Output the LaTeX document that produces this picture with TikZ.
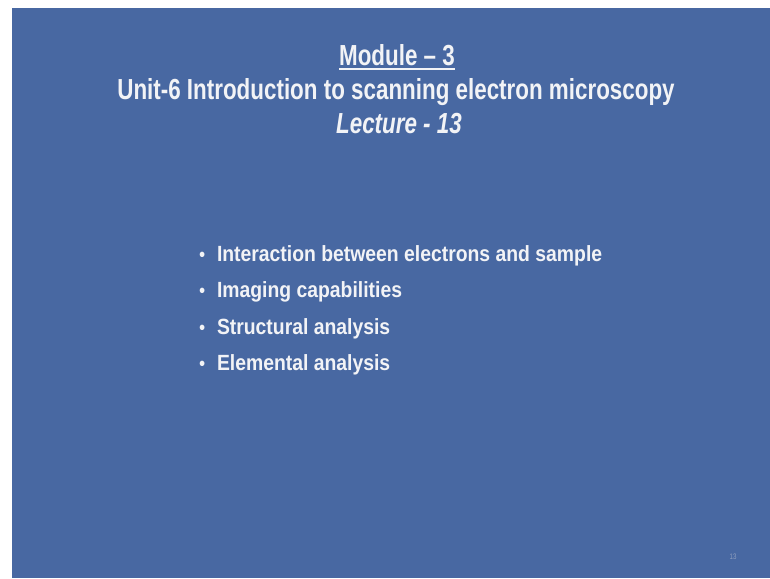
\documentclass[tikz,border=0pt]{standalone}
\usepackage{fontspec}
\setmainfont{Liberation Sans}[FakeStretch=0.772]
\newfontfamily\topicfont{Liberation Sans}[FakeStretch=0.88]
\usetikzlibrary{calc}

\definecolor{slideblue}{HTML}{4868A2}
\definecolor{slidetext}{HTML}{F2F3F6}
\definecolor{pagenum}{HTML}{8E9EBE}

\tikzset{
  slidefont/.style={inner sep=0pt, outer sep=0pt, text=slidetext},
  titletext/.style={slidefont, anchor=base, font=\fontsize{29}{34}\selectfont\bfseries},
  bullettext/.style={slidefont, anchor=base west, font=\topicfont\fontsize{22}{26}\selectfont\bfseries},
  bulletdot/.style={slidefont, anchor=base west, font=\topicfont\fontsize{20}{24}\selectfont},
}

\begin{document}
\begin{tikzpicture}[x=1pt,y=-1pt]
  \useasboundingbox (0,0) rectangle (770,578);
  \fill[white] (0,0) rectangle (770,578);
  \fill[slideblue] (12,8) rectangle (770,578);

  % heading
  \node[titletext] (module) at (397,65) {Module -- 3};
  \draw[slidetext, line width=1.8pt]
    ($(module.base west)+(0,4)$) -- ($(module.base east)+(0,4)$);
  \node[titletext] (unit) at (396,99) {Unit-6 Introduction to scanning electron microscopy};
  \node[titletext] (lecture) at (399,133) {\itshape Lecture - 13};

  % topics
  \foreach \name/\y/\txt in {
      b1/261/Interaction between electrons and sample,
      b2/297/Imaging capabilities,
      b3/334/Structural analysis,
      b4/370/Elemental analysis} {
    \node[bulletdot] (\name-dot) at (199,\y) {•};
    \node[bullettext] (\name) at (217,\y) {\txt};
  }

  % page number
  \node[inner sep=0pt, text=pagenum, font=\fontsize{8}{9}\selectfont] (pageno) at (733,557) {13};
\end{tikzpicture}
\end{document}
